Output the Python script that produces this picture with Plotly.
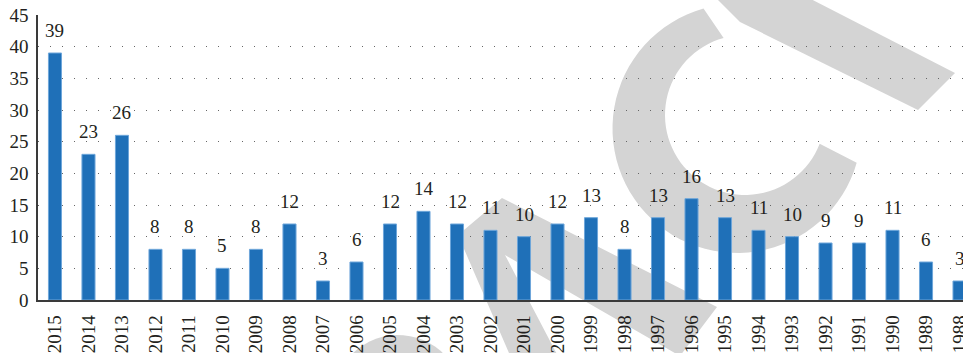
import numpy as np
import plotly.graph_objects as go

# ---------------- data ----------------
years = [str(y) for y in range(2015, 1987, -1)]
counts = [39, 23, 26, 8, 8, 5, 8, 12, 3, 6, 12, 14, 12, 11, 10, 12, 13, 8, 13, 16,
          13, 11, 10, 9, 9, 11, 6, 3]
y_ticks = [0, 5, 10, 15, 20, 25, 30, 35, 40, 45]

# ---------------- geometry ----------------
W, H = 963, 353
L, R, T, B = 38, 0, 15, 53
PW, PH = W - L - R, H - T - B
FONT = "'Liberation Serif', 'Times New Roman', 'DejaVu Serif', serif"
TXT = "#231f20"
WM = "#d4d4d4"


def to_paper(x, y):
    return (x - L) / PW, (H - B - y) / PH


def path_from(pts):
    parts = []
    for i, (x, y) in enumerate(pts):
        X, Y = to_paper(x, y)
        parts.append(("M" if i == 0 else "L") + f"{X:.5f},{Y:.5f}")
    return " ".join(parts) + " Z"


def arc_pts(cx, cy, r, a0, a1, n=60):
    angs = np.radians(np.linspace(a0, a1, n))
    return [(cx + r * np.cos(a), cy - r * np.sin(a)) for a in angs]


# watermark decoration (pixel outlines)
band_top = [(713, -5), (740, 22), (918, 110), (955, 73), (803, -5)]
ring_c = arc_pts(737, 128.5, 124.5, 105.6, 344) + arc_pts(745, 115, 80, 339, 105.5)
lam = [(458, 235), (502, 198), (717, 307), (680, 356), (505, 255),
       (560, 360), (512, 360)]
arch = arc_pts(398, 400, 65, 0, 360)

shapes = []
for pts in (band_top, ring_c, lam, arch):
    shapes.append(dict(type="path", path=path_from(pts), xref="paper", yref="paper",
                       fillcolor=WM, line=dict(width=0), layer="below"))

fig = go.Figure()
fig.add_trace(go.Bar(
    x=years, y=counts, width=0.39,
    marker=dict(color="#1f70b8", line=dict(color="#6ea6da", width=1)),
    hoverinfo="x+y",
))

annotations = [
    dict(x=i, y=c, xref="x", yref="y", text=str(c), showarrow=False,
         yanchor="bottom", yshift=10, font=dict(family=FONT, size=19, color=TXT))
    for i, c in enumerate(counts)
]

fig.update_layout(
    width=W, height=H,
    margin=dict(l=L, r=R, t=T, b=B, pad=0),
    paper_bgcolor="white", plot_bgcolor="rgba(0,0,0,0)",
    showlegend=False,
    shapes=shapes,
    annotations=annotations,
    font=dict(family=FONT, size=19, color=TXT),
    xaxis=dict(
        type="category", range=[-0.507, 27.104],
        showline=True, linecolor="#3a3a3a", linewidth=1.5,
        ticks="", tickangle=-90, showgrid=False, zeroline=False,
        tickfont=dict(family=FONT, size=19, color=TXT),
        automargin=False, ticklabelstandoff=6,
    ),
    yaxis=dict(
        range=[0, 45], tickvals=y_ticks, ticktext=[str(v) for v in y_ticks],
        showline=True, linecolor="#3a3a3a", linewidth=1.5,
        ticks="", showgrid=True, gridcolor="#666666", gridwidth=1,
        griddash="1px,11px", zeroline=False,
        tickfont=dict(family=FONT, size=19, color=TXT),
        automargin=False, ticklabelstandoff=4,
    ),
)

fig.write_html("out.html")
